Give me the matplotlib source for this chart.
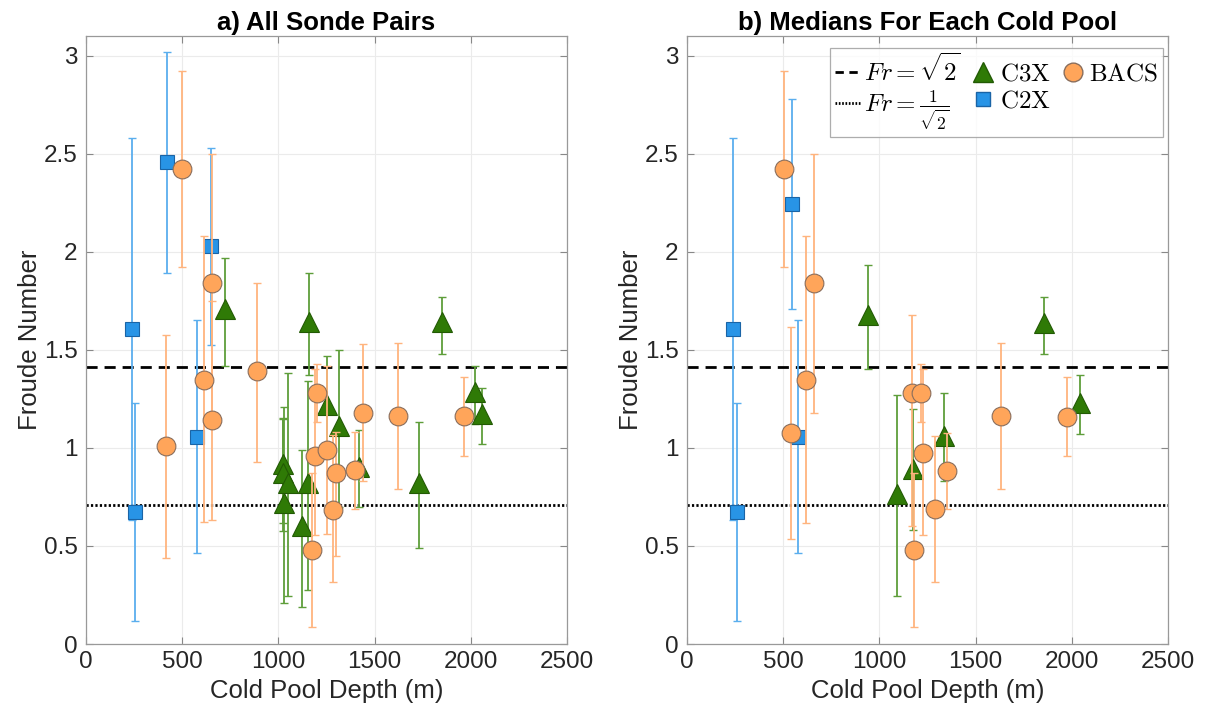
import numpy as np
import matplotlib
matplotlib.use('Agg')
import matplotlib.pyplot as plt
from matplotlib.lines import Line2D

plt.rcParams['font.family'] = ['Liberation Sans', 'DejaVu Sans']
plt.rcParams['mathtext.fontset'] = 'cm'

# ---- a) all sonde pairs ----
c2x_a_depth = [237, 422, 651, 575, 256]
c2x_a_fr = [1.605, 2.456, 2.03, 1.058, 0.673]
c2x_a_lo = [0.633, 1.89, 1.525, 0.463, 0.119]
c2x_a_hi = [2.578, 3.02, 2.53, 1.65, 1.23]

c3x_a_depth = [722, 1159, 1848, 1731, 2020, 2057, 1254, 1315, 1026, 1026, 1052, 1156, 1031, 1121, 1420]
c3x_a_fr = [1.71, 1.64, 1.64, 0.822, 1.283, 1.175, 1.22, 1.11, 0.92, 0.87, 0.82, 0.82, 0.718, 0.60, 0.90]
c3x_a_lo = [1.42, 1.37, 1.48, 0.49, 1.12, 1.02, 0.97, 0.70, 0.617, 0.576, 0.245, 0.275, 0.21, 0.19, 0.70]
c3x_a_hi = [1.97, 1.89, 1.77, 1.13, 1.42, 1.306, 1.47, 1.50, 1.146, 1.15, 1.38, 1.34, 1.21, 0.99, 1.09]

bacs_a_depth = [499, 656, 417, 613, 655, 889, 1199, 1441, 1623, 1192, 1251, 1298, 1398, 1286, 1176, 1965]
bacs_a_fr = [2.42, 1.843, 1.01, 1.347, 1.14, 1.39, 1.28, 1.18, 1.163, 0.96, 0.99, 0.874, 0.888, 0.684, 0.48, 1.163]
bacs_a_lo = [1.92, 1.18, 0.44, 0.62, 0.633, 0.93, 1.13, 0.83, 0.79, 0.555, 0.56, 0.45, 0.69, 0.316, 0.088, 0.96]
bacs_a_hi = [2.92, 2.50, 1.578, 2.08, 1.75, 1.84, 1.43, 1.53, 1.534, 1.40, 1.42, 1.08, 1.08, 1.066, 0.87, 1.36]

# ---- b) medians for each cold pool ----
c2x_b_depth = [241, 544, 578, 260]
c2x_b_fr = [1.605, 2.245, 1.058, 0.673]
c2x_b_lo = [0.633, 1.71, 0.463, 0.119]
c2x_b_hi = [2.578, 2.777, 1.65, 1.23]

c3x_b_depth = [942, 1854, 1337, 1173, 1093, 2043]
c3x_b_fr = [1.68, 1.636, 1.06, 0.89, 0.765, 1.23]
c3x_b_lo = [1.40, 1.48, 0.83, 0.58, 0.245, 1.07]
c3x_b_hi = [1.93, 1.77, 1.28, 1.20, 1.27, 1.37]

bacs_b_depth = [502, 661, 619, 539, 1168, 1216, 1227, 1353, 1289, 1180, 1630, 1974]
bacs_b_fr = [2.42, 1.84, 1.347, 1.075, 1.28, 1.28, 0.974, 0.88, 0.687, 0.48, 1.163, 1.16]
bacs_b_lo = [1.92, 1.18, 0.616, 0.534, 0.60, 1.13, 0.555, 0.687, 0.315, 0.088, 0.79, 0.96]
bacs_b_hi = [2.92, 2.50, 2.08, 1.614, 1.68, 1.43, 1.40, 1.075, 1.06, 0.87, 1.534, 1.36]

blue, blue_edge, blue_err = '#2894E6', '#1A64A6', '#5AAEEE'
green, green_edge, green_err = '#2F7A06', '#225A04', '#5E9E3A'
orange, orange_edge, orange_err = '#FFA55A', '#8A6E5C', '#FFB47E'


def draw_series(ax, depth, fr, lo, hi, marker, ms, face, edge, ecol, z):
    fr = np.array(fr)
    yerr = [fr - np.array(lo), np.array(hi) - fr]
    ax.errorbar(depth, fr, yerr=yerr, fmt='none', ecolor=ecol, elinewidth=1.3,
                capsize=3, capthick=1.0, zorder=z)
    ax.plot(depth, fr, linestyle='none', marker=marker, markersize=ms,
            markerfacecolor=face, markeredgecolor=edge, markeredgewidth=0.8, zorder=z + 0.5)


def style_axes(ax, title):
    ax.set_xlim(0, 2500)
    ax.set_ylim(0, 3.1)
    ax.set_xticks([0, 500, 1000, 1500, 2000, 2500])
    ax.set_yticks([0, 0.5, 1, 1.5, 2, 2.5, 3])
    ax.set_yticklabels(['0', '0.5', '1', '1.5', '2', '2.5', '3'])
    ax.grid(True, color='#ebebeb', linewidth=0.8, zorder=0)
    ax.set_axisbelow(True)
    ax.tick_params(direction='in', top=True, right=True, length=5, width=0.8,
                   color='#888888', labelsize=17.5, labelcolor='#262626')
    ax.tick_params(axis='y', pad=6)
    ax.tick_params(axis='x', pad=5)
    for s in ax.spines.values():
        s.set_color('#999999')
        s.set_linewidth(0.9)
    ax.set_xlabel('Cold Pool Depth (m)', fontsize=18.5, color='#262626', labelpad=4)
    ax.set_ylabel('Froude Number', fontsize=18.5, color='#262626', labelpad=1)
    ax.set_title(title, fontsize=18.5, fontweight='bold', pad=4)
    ax.axhline(np.sqrt(2), color='black', linestyle=(0, (4, 2.5)), linewidth=2.0, zorder=1)
    ax.axhline(1 / np.sqrt(2), color='black', linestyle=(0, (0.8, 0.8)), linewidth=2.0, zorder=1)


fig = plt.figure(figsize=(12.06, 7.19), dpi=100)
ax1 = fig.add_axes([0.0713, 0.1043, 0.3988, 0.8456])
ax2 = fig.add_axes([0.5697, 0.1043, 0.3988, 0.8456])

style_axes(ax1, 'a) All Sonde Pairs')
style_axes(ax2, 'b) Medians For Each Cold Pool')

draw_series(ax1, c2x_a_depth, c2x_a_fr, c2x_a_lo, c2x_a_hi, 's', 10, blue, blue_edge, blue_err, 3)
draw_series(ax1, c3x_a_depth, c3x_a_fr, c3x_a_lo, c3x_a_hi, '^', 14, green, green_edge, green_err, 4)
draw_series(ax1, bacs_a_depth, bacs_a_fr, bacs_a_lo, bacs_a_hi, 'o', 13.5, orange, orange_edge, orange_err, 5)

draw_series(ax2, c2x_b_depth, c2x_b_fr, c2x_b_lo, c2x_b_hi, 's', 10, blue, blue_edge, blue_err, 3)
draw_series(ax2, c3x_b_depth, c3x_b_fr, c3x_b_lo, c3x_b_hi, '^', 14, green, green_edge, green_err, 4)
draw_series(ax2, bacs_b_depth, bacs_b_fr, bacs_b_lo, bacs_b_hi, 'o', 13.5, orange, orange_edge, orange_err, 5)

handles = [
    Line2D([], [], color='black', linestyle=(0, (3, 2)), linewidth=2.0),
    Line2D([], [], color='black', linestyle=(0, (0.6, 0.6)), linewidth=2.0),
    Line2D([], [], linestyle='none', marker='^', markersize=14, markerfacecolor=green, markeredgecolor=green_edge),
    Line2D([], [], linestyle='none', marker='s', markersize=10, markerfacecolor=blue, markeredgecolor=blue_edge),
    Line2D([], [], linestyle='none', marker='o', markersize=13.5, markerfacecolor=orange, markeredgecolor=orange_edge),
]
labels = [r'$Fr = \sqrt{2}$', r'$Fr = \frac{1}{\sqrt{2}}$', r'$\mathrm{C3X}$', r'$\mathrm{C2X}$', r'$\mathrm{BACS}$']
leg = ax2.legend(handles, labels, ncol=3, loc='upper right', bbox_to_anchor=(0.99, 0.98),
                 fontsize=18, frameon=True, fancybox=False, edgecolor='#999999',
                 handlelength=1.0, handletextpad=0.15, columnspacing=0.4, borderpad=0.2,
                 labelspacing=0.1, borderaxespad=0)
leg.get_frame().set_linewidth(0.9)

fig.savefig('out.png', dpi=100)
